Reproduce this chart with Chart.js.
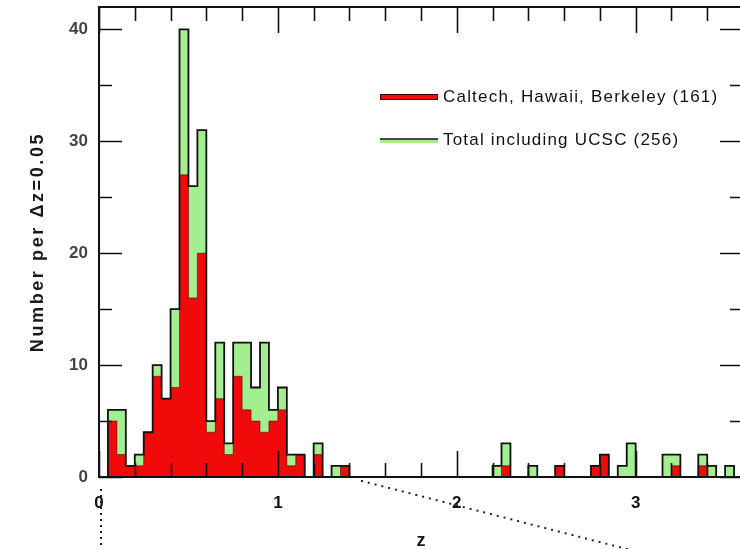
<!DOCTYPE html>
<html>
<head>
<meta charset="utf-8">
<script src="https://cdn.jsdelivr.net/npm/chart.js@4.4.1/dist/chart.umd.min.js"></script>
<style>
  html, body { margin: 0; padding: 0; background: #fff; overflow: hidden; }
  #wrap { width: 750px; height: 549px; }
</style>
</head>
<body>
<div id="wrap"><canvas id="zHist" width="750" height="549"></canvas></div>
<script>
// Redshift histogram, bins of dz = 0.05 (lower bin edge listed)
const binWidth = 0.05;
const zLow = [0.05, 0.10, 0.15, 0.20, 0.25, 0.30, 0.35, 0.40, 0.45, 0.50,
              0.55, 0.60, 0.65, 0.70, 0.75, 0.80, 0.85, 0.90, 0.95, 1.00,
              1.05, 1.10, 1.20, 1.30, 1.35, 2.20, 2.25, 2.40, 2.55, 2.75,
              2.80, 2.90, 2.95, 3.15, 3.20, 3.35, 3.40, 3.50];
const nTotal = [6, 6, 1, 2, 4, 10, 7, 15, 40, 26,
                31, 5, 12, 3, 12, 12, 8, 12, 6, 8,
                2, 2, 3, 1, 1, 1, 3, 1, 1, 1,
                2, 1, 3, 2, 2, 2, 1, 1];
const nCaltech = [5, 2, 1, 1, 4, 9, 7, 8, 27, 16,
                  20, 4, 7, 2, 9, 6, 5, 4, 5, 6,
                  1, 2, 2, 0, 1, 0, 1, 0, 1, 1,
                  2, 0, 0, 0, 1, 1, 0, 0];
const xTicks = [0, 1, 2, 3];
const yTicks = [0, 10, 20, 30, 40];
const seriesNames = ['Caltech, Hawaii, Berkeley (161)', 'Total including UCSC (256)'];

const RED = '#f20a0a';
const GREEN = '#a2ee90';
const FONT = "'Liberation Sans', Arial, Helvetica, sans-serif";

// turn bin counts into the corner points of a stepped outline
function histSteps(lows, counts) {
    const pts = [];
    let prevEnd = null;
    lows.forEach((lo, i) => {
        const n = counts[i];
        if (!n) return;
        if (prevEnd === null || Math.abs(prevEnd - lo) > 1e-6) {
            if (prevEnd !== null) pts.push({ x: prevEnd, y: 0 });
            pts.push({ x: lo, y: 0 });
        }
        pts.push({ x: lo, y: n });
        prevEnd = lo + binWidth;
    });
    pts.push({ x: prevEnd, y: 0 });
    return pts;
}

// frame, inward ticks, legend, titles and the dotted guide lines
const decorations = {
    id: 'decorations',
    afterDatasetsDraw(chart) {
        const ctx = chart.ctx;
        const a = chart.chartArea;
        const xs = chart.scales.x, ys = chart.scales.y;
        ctx.save();
        ctx.strokeStyle = '#111';
        ctx.lineWidth = 2;
        ctx.strokeRect(a.left, a.top, a.right - a.left, a.bottom - a.top);

        ctx.lineWidth = 1.6;
        ctx.beginPath();
        for (let i = 0; i <= 18; i++) {
            const px = Math.round(xs.getPixelForValue(i * 0.2)) + 0.5;
            const len = i % 5 === 0 ? 26 : 14;
            ctx.moveTo(px, a.bottom); ctx.lineTo(px, a.bottom - len);
            ctx.moveTo(px, a.top); ctx.lineTo(px, a.top + len);
        }
        for (let i = 0; i <= 8; i++) {
            const py = Math.round(ys.getPixelForValue(i * 5)) + 0.5;
            const len = i % 2 === 0 ? 23 : 13;
            ctx.moveTo(a.left, py); ctx.lineTo(a.left + len, py);
            ctx.moveTo(a.right, py); ctx.lineTo(a.right - len, py);
        }
        ctx.stroke();

        // legend
        const lx = a.left + 281, lw = 58;
        const rows = [a.top + 90, a.top + 133];
        ctx.fillStyle = RED;
        ctx.fillRect(lx, rows[0] - 3, lw, 6);
        ctx.strokeStyle = '#3a0000';
        ctx.lineWidth = 1;
        ctx.strokeRect(lx + 0.5, rows[0] - 2.5, lw - 1, 5);
        ctx.fillStyle = GREEN;
        ctx.fillRect(lx, rows[1] - 1, lw, 4);
        ctx.strokeStyle = '#111';
        ctx.lineWidth = 1.5;
        ctx.beginPath();
        ctx.moveTo(lx, rows[1] - 1); ctx.lineTo(lx + lw, rows[1] - 1);
        ctx.stroke();

        ctx.fillStyle = '#111';
        ctx.font = '17px ' + FONT;
        ctx.letterSpacing = '1.2px';
        ctx.textAlign = 'left';
        ctx.textBaseline = 'middle';
        ctx.fillText(seriesNames[0], lx + lw + 5, rows[0]);
        ctx.fillText(seriesNames[1], lx + lw + 5, rows[1]);

        // axis titles
        ctx.font = 'bold 18px ' + FONT;
        ctx.letterSpacing = '2.6px';
        ctx.textAlign = 'center';
        ctx.fillStyle = '#1a1a1a';
        ctx.save();
        ctx.translate(a.left - 61, (a.top + a.bottom) / 2);
        ctx.rotate(-Math.PI / 2);
        ctx.fillText('Number per \u0394z=0.05', 0, 0);
        ctx.restore();
        ctx.letterSpacing = '0px';
        ctx.fillText('z', (a.left + a.right) / 2, a.bottom + 64);

        // dotted guides below the axis
        ctx.fillStyle = '#222';
        const vx = xs.getPixelForValue(0) + 2;
        for (let y = a.bottom + 12; y < chart.height; y += 6) {
            ctx.fillRect(vx - 1, y, 2, 2);
        }
        const x0 = xs.getPixelForValue(1.47), y0 = a.bottom + 4;
        const x1 = xs.getPixelForValue(2.95), y1 = chart.height;
        const steps = Math.round(Math.hypot(x1 - x0, y1 - y0) / 7);
        for (let k = 0; k <= steps; k++) {
            const t = k / steps;
            ctx.fillRect(x0 + (x1 - x0) * t - 1, y0 + (y1 - y0) * t - 1, 2, 2);
        }
        ctx.restore();
    }
};

const totalSteps = histSteps(zLow, nTotal);
const caltechSteps = histSteps(zLow, nCaltech);

const ctx = document.getElementById('zHist').getContext('2d');
new Chart(ctx, {
    type: 'line',
    data: {
        datasets: [{
            // outline of the total, drawn over both fills
            data: totalSteps,
            stepped: true,
            borderColor: '#111',
            borderWidth: 1.8,
            fill: false,
            pointRadius: 0
        }, {
            label: seriesNames[0],
            data: caltechSteps,
            stepped: true,
            borderColor: 'rgba(70, 0, 0, 0.55)',
            borderWidth: 1,
            backgroundColor: RED,
            fill: 'origin',
            pointRadius: 0
        }, {
            label: seriesNames[1],
            data: totalSteps,
            stepped: true,
            borderColor: 'rgba(0,0,0,0)',
            borderWidth: 0,
            backgroundColor: GREEN,
            fill: 'origin',
            pointRadius: 0
        }]
    },
    options: {
        responsive: false,
        animation: false,
        layout: { padding: { left: 0, top: 7, right: 7, bottom: 0 } },
        plugins: {
            legend: { display: false },
            tooltip: { enabled: false }
        },
        scales: {
            x: {
                type: 'linear',
                min: 0,
                max: 3.6,
                grid: { display: false, drawTicks: false },
                border: { display: false },
                afterBuildTicks: scale => { scale.ticks = xTicks.map(v => ({ value: v })); },
                afterFit: scale => {
                    scale.height = 72;
                    scale.paddingLeft = 0;
                    scale.paddingRight = 0;
                },
                ticks: {
                    padding: 16,
                    maxRotation: 0,
                    color: '#111',
                    font: { family: FONT, size: 17, weight: 'bold' }
                }
            },
            y: {
                min: 0,
                max: 42,
                grid: { display: false, drawTicks: false },
                border: { display: false },
                afterBuildTicks: scale => { scale.ticks = yTicks.map(v => ({ value: v })); },
                afterFit: scale => {
                    scale.width = 99;
                    scale.paddingTop = 0;
                    scale.paddingBottom = 0;
                },
                ticks: {
                    padding: 11,
                    color: '#444',
                    font: { family: FONT, size: 17, weight: 'bold' }
                }
            }
        }
    },
    plugins: [decorations]
});
</script>
</body>
</html>
